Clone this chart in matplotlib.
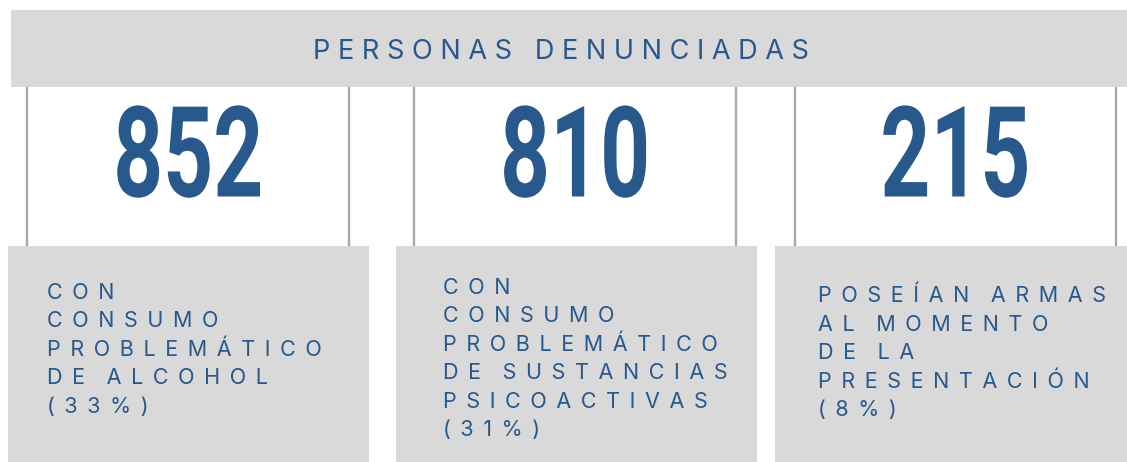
import matplotlib
matplotlib.use("Agg")
import matplotlib.pyplot as plt
from matplotlib.patches import Rectangle
from matplotlib.patheffects import AbstractPathEffect
from matplotlib.transforms import Affine2D

# ---- data ----
header_title = "PERSONAS DENUNCIADAS"
counts = [852, 810, 215]
descriptions = [
    ["CON", "CONSUMO", "PROBLEMÁTICO", "DE ALCOHOL", "(33%)"],
    ["CON", "CONSUMO", "PROBLEMÁTICO", "DE SUSTANCIAS", "PSICOACTIVAS", "(31%)"],
    ["POSEÍAN ARMAS", "AL MOMENTO", "DE LA", "PRESENTACIÓN", "(8%)"],
]

# ---- style ----
BLUE = "#27598d"
GRAY = "#d9d9d9"
LINE = "#a9a9a9"
W, H = 1127, 462
FAM = ["Inter", "DejaVu Sans"]


class CondenseX(AbstractPathEffect):
    """Horizontally condense a text path about its own centre."""
    def __init__(self, sx):
        super().__init__()
        self.sx = sx

    def draw_path(self, renderer, gc, tpath, affine, rgbFace=None):
        ext = tpath.get_extents(affine)
        cx = 0.5 * (ext.x0 + ext.x1)
        aff = affine + Affine2D().translate(-cx, 0).scale(self.sx, 1).translate(cx, 0)
        renderer.draw_path(gc, tpath, aff, rgbFace)


def spaced(s, gap=" ", word_gap="   "):
    words = s.split(" ")
    return word_gap.join(gap.join(w) for w in words)


fig = plt.figure(figsize=(W / 100, H / 100), dpi=100)
ax = fig.add_axes([0, 0, 1, 1])
ax.set_xlim(0, W)
ax.set_ylim(H, 0)
ax.axis("off")

# header band
ax.add_patch(Rectangle((11, 10), W - 11, 77, facecolor=GRAY, edgecolor="none"))
ax.text(560.5, 59, spaced(header_title, gap=" ", word_gap="   "), ha="center", va="baseline",
        fontsize=19.5, family=FAM, color=BLUE)

# column frames
line_pairs = [(27, 349), (414, 736), (795, 1116)]
boxes = [(8, 369), (396, 757), (775, 1127)]
text_left = [47, 443, 818]
first_base = [299, 294, 302.5]
line_step = 28.4

for i, (n, lines) in enumerate(zip(counts, descriptions)):
    xl, xr = line_pairs[i]
    for x in (xl, xr):
        ax.plot([x, x], [87, 246], color=LINE, lw=1.7, solid_capstyle="butt")
    ax.text((xl + xr) / 2, 196.5, str(n), ha="center", va="baseline",
            fontsize=91, family="Roboto", fontweight="bold", color=BLUE,
            path_effects=[CondenseX(0.69)])
    bx0, bx1 = boxes[i]
    ax.add_patch(Rectangle((bx0, 246), bx1 - bx0, H - 246, facecolor=GRAY, edgecolor="none"))
    for k, line in enumerate(lines):
        ax.text(text_left[i], first_base[i] + k * line_step,
                spaced(line, gap=" \u2006", word_gap="   \u2006"),
                ha="left", va="baseline", fontsize=15.5, family=FAM, color=BLUE)

fig.savefig("out.png", dpi=100)
